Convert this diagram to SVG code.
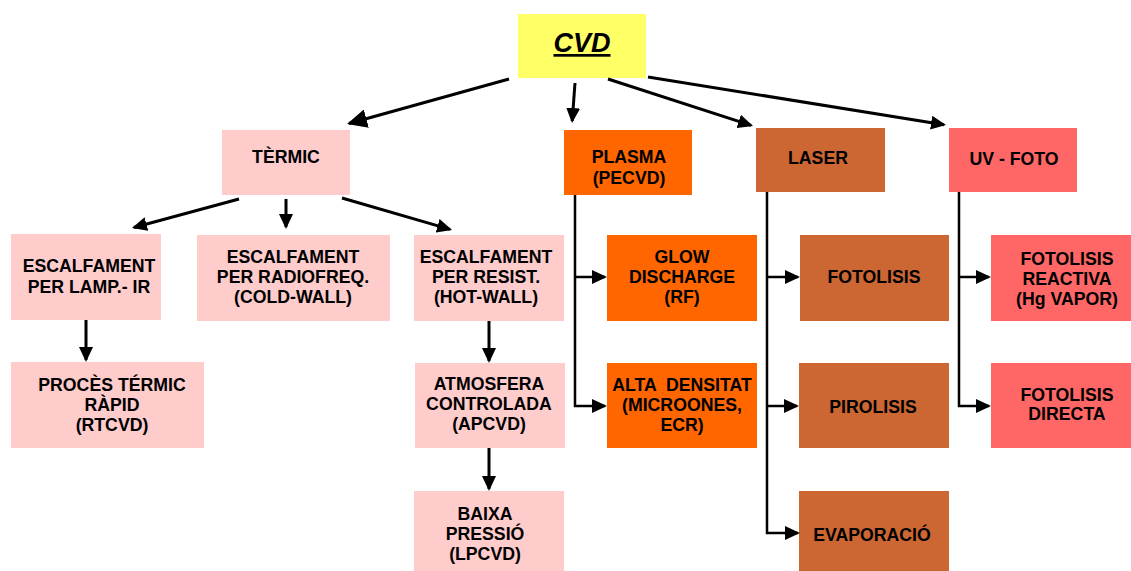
<svg xmlns="http://www.w3.org/2000/svg" width="1131" height="571" viewBox="0 0 1131 571">
<style>
  text { font-family: "Liberation Sans", Arial, sans-serif; font-weight: bold; font-size: 17.7px; fill: #000; text-anchor: middle; }
  .t1 { fill: #FFCCCC; }
  .pl { fill: #FF6600; }
  .la { fill: #CC6633; }
  .uv { fill: #FF6666; }
  .cvd { fill: #FFFF66; }
  .conn line, .conn path { stroke: #000; fill: none; stroke-width: 3; }
  .conn path { stroke-width: 2.5; }
</style>
<defs>
  <marker id="ah" markerUnits="userSpaceOnUse" orient="auto" markerWidth="15" markerHeight="14" refX="13" refY="7">
    <path d="M0,0 L15,7 L0,14 z" fill="#000"/>
  </marker>
  <marker id="ahb" markerUnits="userSpaceOnUse" orient="auto" markerWidth="20" markerHeight="19" refX="18" refY="9.5">
    <path d="M0,0 L20,9.5 L0,19 z" fill="#000"/>
  </marker>
</defs>
<rect width="1131" height="571" fill="#fff"/>

<g id="cvd">
  <rect class="cvd" x="518" y="14" width="128" height="64"/>
  <text x="582" y="52" style="font-size:27px;font-style:italic;text-decoration:underline">CVD</text>
</g>

<g id="termic">
  <rect class="t1" x="222" y="130" width="128" height="65"/>
  <text x="286" y="163">TÈRMIC</text>
</g>
<g id="lamp">
  <rect class="t1" x="11" y="234" width="150" height="86"/>
  <text x="89" y="272">ESCALFAMENT</text>
  <text x="89" y="293">PER LAMP.- IR</text>
</g>
<g id="radio">
  <rect class="t1" x="197" y="235" width="193" height="86"/>
  <text x="293" y="263">ESCALFAMENT</text>
  <text x="293" y="283">PER RADIOFREQ.</text>
  <text x="293" y="303">(COLD-WALL)</text>
</g>
<g id="resist">
  <rect class="t1" x="414" y="235" width="150" height="86"/>
  <text x="486" y="263">ESCALFAMENT</text>
  <text x="486" y="283">PER RESIST.</text>
  <text x="486" y="303">(HOT-WALL)</text>
</g>
<g id="rtcvd">
  <rect class="t1" x="11" y="362" width="193" height="86"/>
  <text x="112" y="391">PROCÈS TÉRMIC</text>
  <text x="112" y="411">RÀPID</text>
  <text x="112" y="431">(RTCVD)</text>
</g>
<g id="apcvd">
  <rect class="t1" x="415" y="363" width="150" height="85"/>
  <text x="489" y="390">ATMOSFERA</text>
  <text x="489" y="410">CONTROLADA</text>
  <text x="489" y="430">(APCVD)</text>
</g>
<g id="lpcvd">
  <rect class="t1" x="414" y="491" width="150" height="80"/>
  <text x="485" y="520">BAIXA</text>
  <text x="485" y="540">PRESSIÓ</text>
  <text x="485" y="560">(LPCVD)</text>
</g>

<g id="plasma">
  <rect class="pl" x="564" y="130" width="128" height="65"/>
  <text x="629" y="163">PLASMA</text>
  <text x="629" y="184">(PECVD)</text>
</g>
<g id="glow">
  <rect class="pl" x="607" y="235" width="150" height="86"/>
  <text x="682" y="263">GLOW</text>
  <text x="682" y="283">DISCHARGE</text>
  <text x="682" y="303">(RF)</text>
</g>
<g id="alta">
  <rect class="pl" x="607" y="363" width="150" height="85"/>
  <text x="682" y="391" style="white-space:pre">ALTA  DENSITAT</text>
  <text x="682" y="411">(MICROONES,</text>
  <text x="682" y="431">ECR)</text>
</g>

<g id="laser">
  <rect class="la" x="756" y="128" width="129" height="64"/>
  <text x="818" y="164">LASER</text>
</g>
<g id="fotolisis">
  <rect class="la" x="800" y="235" width="149" height="86"/>
  <text x="874" y="283">FOTOLISIS</text>
</g>
<g id="pirolisis">
  <rect class="la" x="799" y="363" width="150" height="85"/>
  <text x="873" y="413">PIROLISIS</text>
</g>
<g id="evaporacio">
  <rect class="la" x="799" y="491" width="150" height="80"/>
  <text x="872" y="541">EVAPORACIÓ</text>
</g>

<g id="uvfoto">
  <rect class="uv" x="949" y="128" width="128" height="64"/>
  <text x="1014" y="165">UV - FOTO</text>
</g>
<g id="reactiva">
  <rect class="uv" x="991" y="235" width="152" height="86"/>
  <text x="1067" y="265">FOTOLISIS</text>
  <text x="1067" y="285">REACTIVA</text>
  <text x="1067" y="305">(Hg VAPOR)</text>
</g>
<g id="directa">
  <rect class="uv" x="991" y="363" width="152" height="85"/>
  <text x="1067" y="401">FOTOLISIS</text>
  <text x="1067" y="420">DIRECTA</text>
</g>

<g id="connectors" class="conn">
  <line x1="509" y1="79" x2="349" y2="123.5" marker-end="url(#ahb)"/>
  <line x1="575" y1="83" x2="572.2" y2="121" marker-end="url(#ah)"/>
  <line x1="608" y1="79" x2="751.1" y2="125.4" marker-end="url(#ah)"/>
  <line x1="648" y1="77" x2="944" y2="124.7" marker-end="url(#ah)"/>
  <line x1="239" y1="199" x2="133.9" y2="227.5" marker-end="url(#ah)"/>
  <line x1="286" y1="199" x2="286" y2="227" marker-end="url(#ah)"/>
  <line x1="342" y1="198" x2="450.1" y2="229.4" marker-end="url(#ah)"/>
  <line x1="86" y1="320" x2="86" y2="360" marker-end="url(#ah)"/>
  <line x1="489" y1="321" x2="489" y2="361" marker-end="url(#ah)"/>
  <line x1="489" y1="448" x2="489" y2="489" marker-end="url(#ah)"/>
  <path d="M575,195 V406 H605" marker-end="url(#ah)"/>
  <path d="M575,277 H605" marker-end="url(#ah)"/>
  <path d="M767,192 V533 H798" marker-end="url(#ah)"/>
  <path d="M767,277 H798" marker-end="url(#ah)"/>
  <path d="M767,406 H797" marker-end="url(#ah)"/>
  <path d="M959,192 V406 H989" marker-end="url(#ah)"/>
  <path d="M959,277 H989" marker-end="url(#ah)"/>
</g>
</svg>
